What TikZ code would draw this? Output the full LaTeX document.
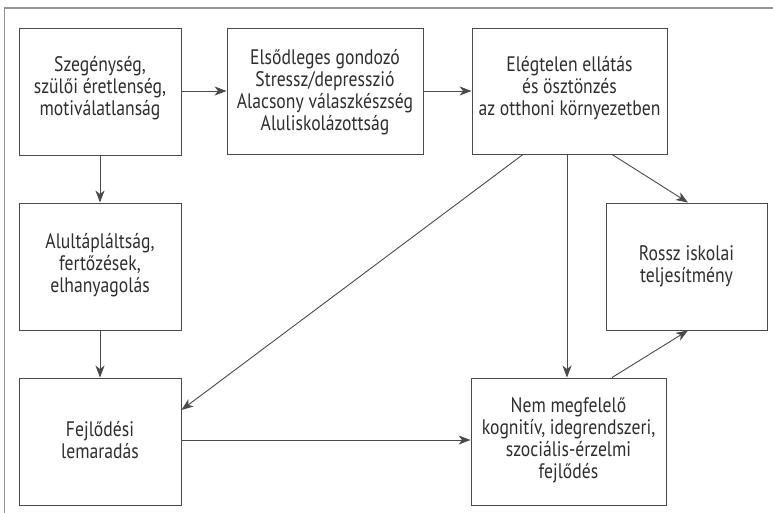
\documentclass[tikz,border=0pt]{standalone}
\usepackage{fontspec}
\setmainfont{PT Sans}[FakeStretch=0.84]
\usetikzlibrary{arrows.meta}
\definecolor{linec}{HTML}{4A4A4A}
\definecolor{textc}{HTML}{2E2E2E}
\begin{document}
\begin{tikzpicture}[x=1pt,y=-1pt,
  box/.style={draw=linec,line width=0.9pt,fill=white,inner sep=0pt},
  txt/.style={align=center,text=textc,font=\fontsize{21}{22}\selectfont},
  arr/.style={draw=linec,line width=0.9pt,-{Stealth[length=12pt,width=9pt,inset=3.5pt]}}]
\useasboundingbox (0,0) rectangle (773,513);
\draw[draw=gray!85,line width=1.2pt] (773,8) -- (4.5,8) -- (4.5,513);
% boxes
\node[box,minimum width=162pt,minimum height=127pt] (b1) at (100,91.5) {};
\node[box,minimum width=196pt,minimum height=126pt] (b2) at (325,91) {};
\node[box,minimum width=195pt,minimum height=126pt] (b3) at (569.5,91) {};
\node[box,minimum width=162pt,minimum height=127pt] (b4) at (100,266.5) {};
\node[box,minimum width=161pt,minimum height=127pt] (b5) at (686.5,266.5) {};
\node[box,minimum width=162pt,minimum height=127pt] (b6) at (100,441.5) {};
\node[box,minimum width=195pt,minimum height=127pt] (b7) at (568.5,441.5) {};
% texts
\node[txt] (t1) at (100,88) {Szegénység,\\szülői éretlenség,\\motiválatlanság};
\node[txt] (t2) at (325,92) {Elsődleges gondozó\\Stressz/depresszió\\Alacsony válaszkészség\\Aluliskolázottság};
\node[txt] (t3) at (569.5,88) {Elégtelen ellátás\\és ösztönzés\\az otthoni környezetben};
\node[txt] (t4) at (100,265) {Alultápláltság,\\fertőzések,\\elhanyagolás};
\node[txt] (t5) at (686.5,266) {Rossz iskolai\\teljesítmény};
\node[txt] (t6) at (100,440) {Fejlődési\\lemaradás};
\node[txt] (t7) at (568.5,440) {Nem megfelelő\\kognitív, idegrendszeri,\\szociális-érzelmi\\fejlődés};
% connectors
\draw[arr] (b1.east |- 0,91) -- (b2.west |- 0,91);
\draw[arr] (b2.east |- 0,91) -- (b3.west |- 0,91);
\draw[arr] (b1.south) -- (b4.north);
\draw[arr] (b4.south) -- (b6.north);
\draw[arr] (b3.south -| 523,0) -- (b6.east |- 0,410);
\draw[arr] (b3.south -| 567,0) -- (b7.north -| 567,0);
\draw[arr] (b3.south -| 612,0) -- (b5.north -| 688,0);
\draw[arr] (b7.north -| 612,0) -- (b5.south -| 688,0);
\draw[arr] (b6.east |- 0,440) -- (b7.west |- 0,440);
\end{tikzpicture}
\end{document}
